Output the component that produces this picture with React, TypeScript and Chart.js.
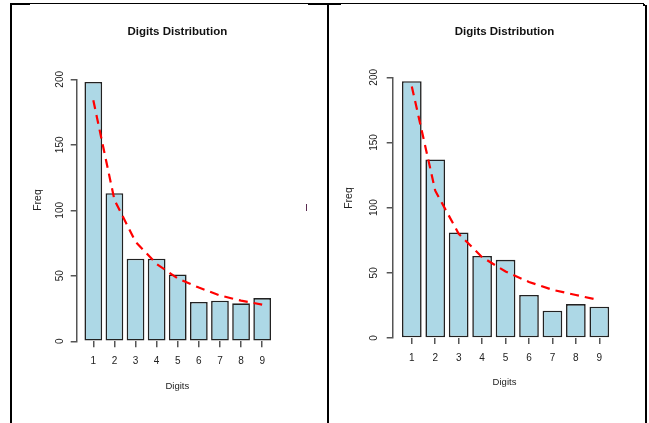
import React, { useEffect, useRef } from "react";
import { Chart, registerables } from "chart.js";

Chart.register(...registerables);

// ---- data ----
const digits = [1, 2, 3, 4, 5, 6, 7, 8, 9];
const yTickValues = [0, 50, 100, 150, 200];
const leftFreq = [198, 113, 63, 63, 51, 30, 31, 29, 33];
const leftExpected = [184, 108, 76, 59, 48, 41, 35, 31, 28];
const rightFreq = [197, 137, 81, 63, 60, 33, 21, 26, 24];
const rightExpected = [193, 113, 80, 62, 51, 43, 37, 33, 29];
const titleText = "Digits Distribution";
const xTitle = "Digits";
const yTitle = "Freq";

// ---- layout ----
const W = 649;
const H = 423;
const X_AXIS_H = 30;
const FONT = "'Liberation Sans', Arial, Helvetica, sans-serif";

type Panel = {
  freq: number[];
  expected: number[];
  area: { left: number; right: number; top: number; bottom: number };
  xMin: number;
  xMax: number;
  titleY: number;
  yTickX: number;
  freqX: number;
  freqY: number;
  digitsY: number;
};

const leftPanel: Panel = {
  freq: leftFreq,
  expected: leftExpected,
  area: { left: 76.7, right: 278, top: 79.3, bottom: 341.3 },
  xMin: 0.213,
  xMax: 9.75,
  titleY: 31.5,
  yTickX: 60,
  freqX: 37.8,
  freqY: 200,
  digitsY: 386,
};

const rightPanel: Panel = {
  freq: rightFreq,
  expected: rightExpected,
  area: { left: 392.7, right: 616.3, top: 77.3, bottom: 338 },
  xMin: 0.185,
  xMax: 9.725,
  titleY: 31.5,
  yTickX: 374,
  freqX: 349.2,
  freqY: 198,
  digitsY: 382,
};

function PanelChart({ panel }: { panel: Panel }) {
  const ref = useRef<HTMLCanvasElement | null>(null);
  useEffect(() => {
    if (!ref.current) return;
    const a = panel.area;
    const textPlugin = {
      id: "rtext",
      afterDraw(chart: any) {
        const ctx = chart.ctx as CanvasRenderingContext2D;
        const ca = chart.chartArea;
        const cx = (ca.left + ca.right) / 2;
        ctx.save();
        ctx.textAlign = "center";
        ctx.textBaseline = "middle";
        ctx.fillStyle = "#111";
        ctx.font = `bold 11.5px ${FONT}`;
        ctx.fillText(titleText, cx, panel.titleY);
        ctx.fillStyle = "#222";
        ctx.font = `9.5px ${FONT}`;
        ctx.fillText(xTitle, cx, panel.digitsY);
        ctx.save();
        ctx.translate(panel.freqX, panel.freqY);
        ctx.rotate(-Math.PI / 2);
        ctx.font = `10.5px ${FONT}`;
        ctx.fillText(yTitle, 0, 0);
        ctx.restore();
        const ys = chart.scales.y;
        ctx.font = `10px ${FONT}`;
        ys.ticks.forEach((t: any) => {
          const py = ys.getPixelForValue(t.value);
          ctx.save();
          ctx.translate(panel.yTickX, py);
          ctx.rotate(-Math.PI / 2);
          ctx.fillText(String(t.value), 0, 0);
          ctx.restore();
        });
        ctx.restore();
      },
    };

    const chart = new Chart(ref.current, {
      type: "bar",
      data: {
        datasets: [
          {
            type: "line",
            data: digits.map((d, i) => ({ x: d, y: panel.expected[i] })),
            borderColor: "#ff0000",
            borderWidth: 2.2,
            borderDash: [9, 6],
            pointRadius: 0,
            fill: false,
            tension: 0,
            order: 0,
            clip: false,
          } as any,
          {
            type: "bar",
            data: digits.map((d, i) => ({ x: d, y: panel.freq[i] })),
            backgroundColor: "#add8e6",
            borderColor: "#222",
            borderWidth: 1.6,
            borderSkipped: false,
            barPercentage: 0.84,
            categoryPercentage: 1,
            order: 1,
            clip: false,
          } as any,
        ],
      },
      options: {
        responsive: false,
        animation: false,
        devicePixelRatio: 1,
        layout: {
          padding: {
            left: a.left,
            right: W - a.right,
            top: a.top,
            bottom: H - a.bottom - X_AXIS_H,
          },
        },
        plugins: {
          legend: { display: false },
          tooltip: { enabled: false },
          title: { display: false },
        },
        scales: {
          x: {
            type: "linear",
            min: panel.xMin,
            max: panel.xMax,
            offset: false,
            afterBuildTicks: (s: any) => {
              s.ticks = digits.map((v) => ({ value: v }));
            },
            afterFit: (s: any) => {
              s.height = X_AXIS_H;
            },
            grid: {
              offset: false,
              drawOnChartArea: false,
              drawTicks: true,
              tickLength: 6,
              color: "#555",
              lineWidth: 1.5,
            },
            border: { display: false },
            ticks: {
              font: { size: 10, family: FONT },
              color: "#222",
              padding: 8,
              maxRotation: 0,
              minRotation: 0,
              autoSkip: false,
              callback: (v: any) => String(v),
            },
          },
          y: {
            type: "linear",
            min: 0,
            max: 200,
            afterBuildTicks: (s: any) => {
              s.ticks = yTickValues.map((v) => ({ value: v }));
            },
            afterFit: (s: any) => {
              s.width = 0;
            },
            grid: {
              drawOnChartArea: false,
              drawTicks: true,
              tickLength: 6,
              color: "#555",
              lineWidth: 1.5,
            },
            border: { display: true, color: "#555", width: 1.5 },
            ticks: { color: "rgba(0,0,0,0)", font: { size: 10, family: FONT } },
          },
        } as any,
      },
      plugins: [textPlugin],
    } as any);
    return () => chart.destroy();
  }, [panel]);

  return (
    <canvas
      ref={ref}
      width={W}
      height={H}
      style={{ position: "absolute", left: 0, top: 0, width: W, height: H }}
    />
  );
}

const line = (left: number, top: number, width: number, height: number, color = "#000") => (
  <div
    style={{ position: "absolute", left, top, width, height, background: color }}
  />
);

export default function App() {
  return (
    <div
      style={{
        position: "absolute",
        left: 0,
        top: 0,
        width: W,
        height: H,
        background: "#fff",
        overflow: "hidden",
      }}
    >
      <PanelChart panel={leftPanel} />
      <PanelChart panel={rightPanel} />
      {line(10, 3, 634, 1)}
      {line(10, 3, 20, 2)}
      {line(308, 3, 33, 2)}
      {line(10, 3, 2, 420)}
      {line(327, 3, 2, 420)}
      {line(645, 5, 2, 418)}
      {line(643, 4, 2, 2)}
      {line(306, 204, 1, 7, "#5a2a50")}
    </div>
  );
}
